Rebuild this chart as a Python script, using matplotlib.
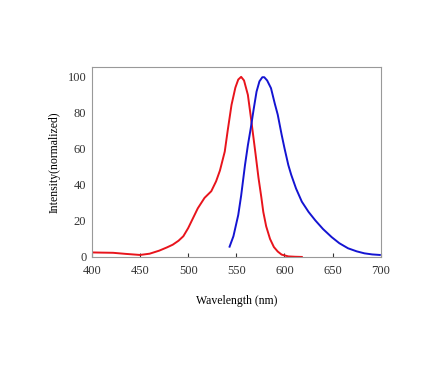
import matplotlib
matplotlib.use("Agg")
import matplotlib.pyplot as plt

# Red curve (excitation)
red_x = [400, 410, 422, 435, 450, 460, 470, 478, 484, 490, 495, 500, 505, 510, 517, 524, 529, 533, 538, 541, 545, 549, 552, 555, 558, 562, 565, 567, 570, 573, 576, 578, 581, 585, 589, 593, 597, 604, 611, 618]
red_y = [2.5, 2.4, 2.3, 1.7, 1.1, 1.8, 3.5, 5.3, 6.8, 9.0, 11.5, 16.0, 21.5, 27.0, 32.8, 36.5, 42.0, 48.0, 58.5, 70.0, 84.4, 94.0, 98.5, 100.0, 98.0, 90.0, 78.0, 69.6, 57.0, 44.0, 33.0, 25.0, 17.0, 10.0, 5.5, 3.0, 1.3, 0.3, 0.1, 0.0]

# Blue curve (emission)
blue_x = [543, 547, 552, 555, 559, 562, 565, 568, 571, 574, 577, 579, 582, 586, 590, 593, 597, 600, 604, 607, 612, 618, 625, 632, 640, 649, 657, 666, 675, 683, 691, 699]
blue_y = [5.7, 11.5, 23.3, 34.0, 51.0, 62.0, 71.5, 82.0, 91.8, 97.5, 99.8, 99.8, 98.0, 93.7, 85.0, 79.0, 68.0, 60.4, 51.0, 45.6, 38.0, 30.7, 25.0, 20.3, 15.5, 11.0, 7.6, 4.8, 3.1, 2.0, 1.4, 1.1]

xticks = [400, 450, 500, 550, 600, 650, 700]
yticks = [0, 20, 40, 60, 80, 100]

plt.rcParams['font.family'] = ['Liberation Serif', 'DejaVu Serif']

fig = plt.figure(figsize=(4.48, 3.74), dpi=100)
ax = fig.add_axes([0.205, 0.313, 0.645, 0.508])

ax.plot(red_x, red_y, color='#e8141c', lw=1.4)
ax.plot(blue_x, blue_y, color='#1414d2', lw=1.4)

ax.set_xlim(400, 700)
ax.set_ylim(0, 105.5)
ax.set_xticks(xticks)
ax.set_yticks(yticks)
ax.tick_params(direction='in', length=3, labelsize=9, colors='#333333', pad=6)
ax.tick_params(axis='y', length=0, pad=4)
for s in ax.spines.values():
    s.set_color('#999999')
    s.set_linewidth(0.8)

ax.set_xlabel('Wavelength (nm)', fontsize=8.5, labelpad=13)
ax.set_ylabel('Intensity(normalized)', fontsize=8.5, labelpad=5)

fig.savefig('out.png', dpi=100)
